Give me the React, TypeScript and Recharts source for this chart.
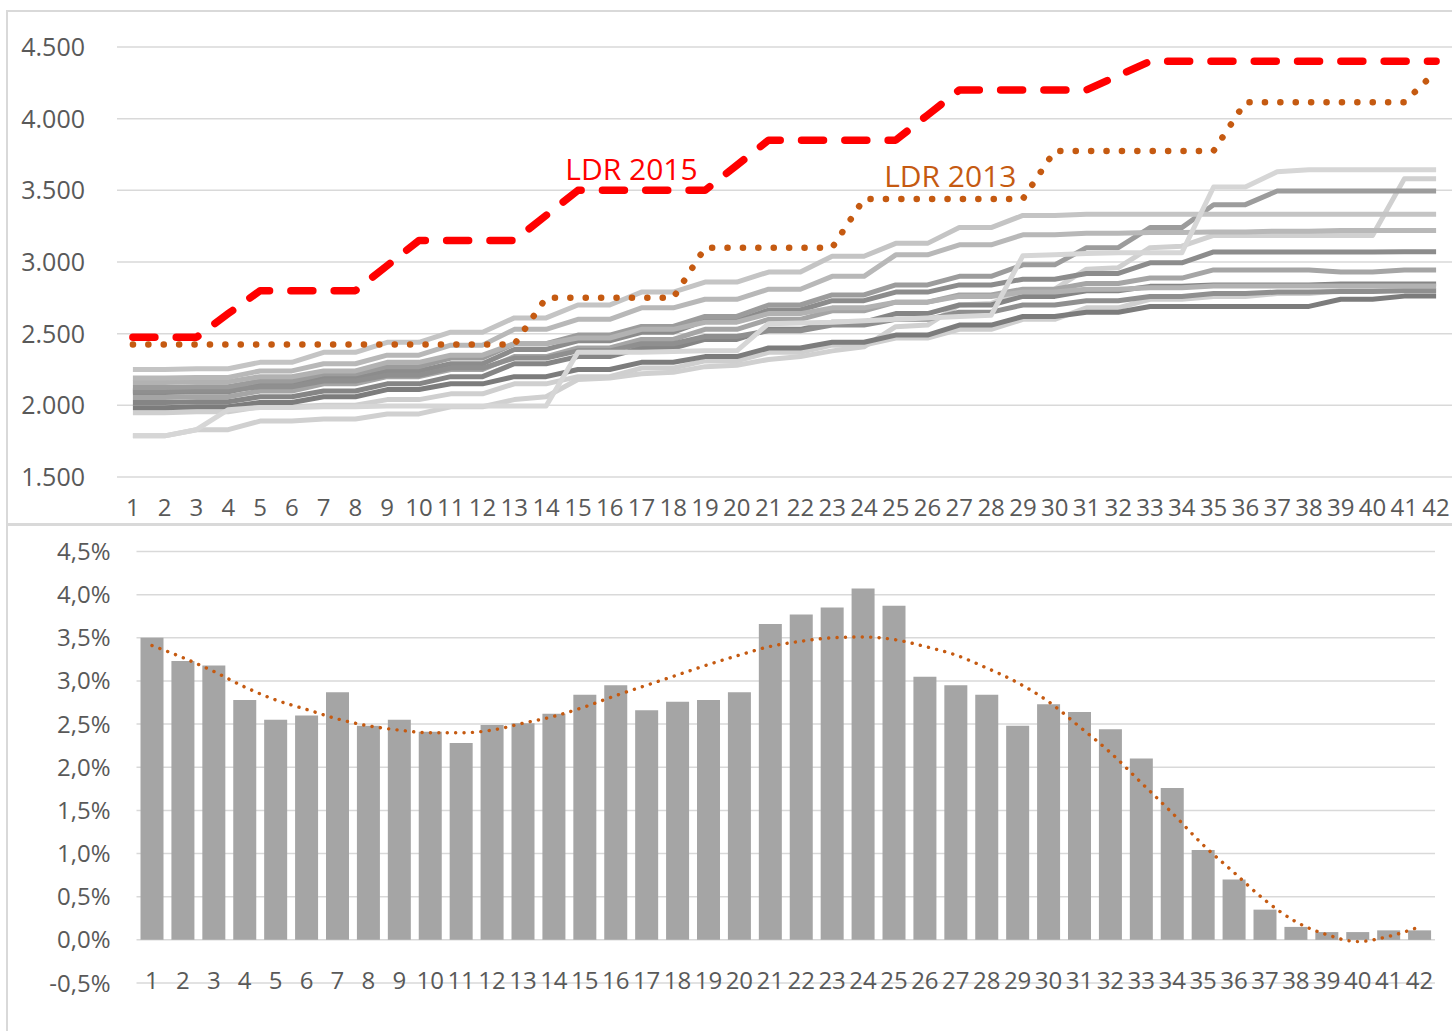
import React from "react";
import {
  LineChart,
  Line,
  ComposedChart,
  Bar,
  XAxis,
  YAxis,
  CartesianGrid,
} from "recharts";

const FONT = "'Open Sans', 'DejaVu Sans', sans-serif";
const TICK_COLOR = "#595959";
const GRID_COLOR = "#D9D9D9";

const steps = [
  "1", "2", "3", "4", "5", "6", "7", "8", "9", "10", "11", "12", "13", "14",
  "15", "16", "17", "18", "19", "20", "21", "22", "23", "24", "25", "26", "27",
  "28", "29", "30", "31", "32", "33", "34", "35", "36", "37", "38", "39", "40",
  "41", "42",
];

const topTicks = [1500, 2000, 2500, 3000, 3500, 4000, 4500];
const bottomTicks = [-0.5, 0, 0.5, 1, 1.5, 2, 2.5, 3, 3.5, 4, 4.5];

// LDR lines
const ldr2015 = [
  2475, 2475, 2475, 2640, 2800, 2800, 2800, 2800, 2975, 3150, 3150, 3150, 3150,
  3325, 3500, 3500, 3500, 3500, 3500, 3675, 3850, 3850, 3850, 3850, 3850, 4025,
  4200, 4200, 4200, 4200, 4200, 4300, 4400, 4400, 4400, 4400, 4400, 4400, 4400,
  4400, 4400, 4400,
];
const ldr2013 = [
  2425, 2425, 2425, 2425, 2425, 2425, 2425, 2425, 2425, 2425, 2425, 2425, 2425,
  2750, 2750, 2750, 2750, 2750, 3100, 3100, 3100, 3100, 3100, 3440, 3440, 3440,
  3440, 3440, 3440, 3775, 3775, 3775, 3775, 3775, 3775, 4115, 4115, 4115, 4115,
  4115, 4115, 4330,
];

// gray comparison lines
const grayT1 = [
  2250, 2250, 2255, 2255, 2300, 2300, 2370, 2370, 2440, 2440, 2510, 2510, 2610,
  2610, 2700, 2700, 2790, 2790, 2860, 2860, 2930, 2930, 3040, 3040, 3130, 3130,
  3240, 3240, 3325, 3325, 3333, 3333, 3333, 3333, 3333, 3333, 3333, 3333, 3333,
  3333, 3333, 3333,
];
const grayT2 = [
  2190, 2190, 2195, 2195, 2240, 2240, 2290, 2290, 2350, 2350, 2420, 2420, 2530,
  2530, 2600, 2600, 2680, 2680, 2740, 2740, 2810, 2810, 2900, 2900, 3050, 3050,
  3120, 3120, 3190, 3190, 3200, 3200, 3205, 3205, 3210, 3210, 3215, 3215, 3220,
  3220, 3220, 3220,
];
const grayD1 = [
  2125, 2125, 2130, 2130, 2170, 2170, 2220, 2220, 2270, 2270, 2330, 2330, 2430,
  2430, 2490, 2490, 2550, 2550, 2620, 2620, 2700, 2700, 2770, 2770, 2840, 2840,
  2900, 2900, 2980, 2980, 3100, 3100, 3240, 3240, 3400, 3400, 3495, 3495, 3495,
  3495, 3495, 3495,
];
const grayM1 = [
  2090, 2090, 2095, 2095, 2140, 2140, 2190, 2190, 2240, 2240, 2290, 2290, 2390,
  2390, 2450, 2450, 2510, 2510, 2590, 2590, 2665, 2665, 2730, 2730, 2790, 2790,
  2840, 2840, 2880, 2880, 2920, 2920, 2994, 2994, 3070, 3070, 3070, 3070, 3070,
  3070, 3072, 3072,
];
const grayM2 = [
  2055, 2055, 2060, 2060, 2100, 2100, 2150, 2150, 2200, 2200, 2250, 2250, 2340,
  2340, 2400, 2400, 2460, 2460, 2530, 2530, 2600, 2600, 2660, 2660, 2720, 2720,
  2770, 2770, 2810, 2810, 2850, 2850, 2888, 2888, 2945, 2945, 2945, 2945, 2930,
  2930, 2945, 2945,
];
const grayM3 = [
  2020, 2020, 2025, 2025, 2060, 2060, 2100, 2100, 2150, 2150, 2200, 2200, 2290,
  2290, 2340, 2340, 2400, 2400, 2460, 2460, 2530, 2530, 2580, 2580, 2640, 2640,
  2700, 2700, 2760, 2760, 2800, 2800, 2830, 2830, 2840, 2840, 2840, 2840, 2846,
  2846, 2846, 2846,
];
const grayM4 = [
  1984, 1984, 1990, 1990, 2020, 2020, 2060, 2060, 2110, 2110, 2150, 2150, 2200,
  2200, 2250, 2250, 2300, 2300, 2340, 2340, 2400, 2400, 2440, 2440, 2490, 2490,
  2560, 2560, 2620, 2620, 2650, 2650, 2690, 2690, 2690, 2690, 2690, 2690, 2740,
  2740, 2762, 2762,
];
const grayM5 = [
  2160, 2160, 2165, 2165, 2200, 2200, 2240, 2240, 2300, 2300, 2350, 2350, 2430,
  2430, 2470, 2470, 2530, 2530, 2580, 2580, 2640, 2640, 2680, 2680, 2720, 2720,
  2760, 2760, 2790, 2790, 2810, 2810, 2820, 2820, 2832, 2832, 2832, 2832, 2832,
  2832, 2832, 2832,
];
const grayM6 = [
  2100, 2100, 2105, 2105, 2130, 2130, 2170, 2170, 2210, 2210, 2260, 2260, 2330,
  2330, 2380, 2380, 2430, 2430, 2480, 2480, 2520, 2520, 2560, 2560, 2600, 2600,
  2650, 2650, 2700, 2700, 2730, 2730, 2760, 2760, 2780, 2780, 2790, 2790, 2795,
  2795, 2800, 2800,
];
const grayL1 = [
  1949, 1949, 1955, 1955, 1990, 1990, 2000, 2000, 2040, 2040, 2080, 2080, 2150,
  2150, 2200, 2200, 2260, 2260, 2310, 2310, 2370, 2370, 2420, 2420, 2470, 2470,
  2530, 2530, 2600, 2600, 2680, 2680, 2740, 2740, 2760, 2760, 2780, 2780, 2800,
  2800, 2804, 2804,
];
const grayJ1 = [
  1787, 1787, 1830, 1970, 1985, 1985, 1990, 1990, 1995, 1995, 1995, 1995, 1995,
  1995, 2370, 2370, 2370, 2375, 2380, 2380, 2570, 2575, 2580, 2590, 2600, 2610,
  2620, 2628, 3044, 3050, 3060, 3064, 3064, 3064, 3523, 3523, 3630, 3644, 3644,
  3644, 3644, 3644,
];
const grayJ2 = [
  1787, 1787, 1830, 1830, 1890, 1890, 1905, 1905, 1940, 1940, 1990, 1990, 2040,
  2060, 2180, 2190, 2220, 2230, 2270, 2280, 2320, 2340, 2380, 2408, 2549, 2560,
  2700, 2710, 2800, 2810, 2950, 2960, 3100, 3110, 3185, 3185, 3185, 3185, 3185,
  3185, 3580, 3580,
];

// bottom panel, values in percent
const growth = [
  3.5, 3.23, 3.18, 2.78, 2.55, 2.6, 2.87, 2.48, 2.55, 2.41, 2.28, 2.49, 2.51,
  2.62, 2.84, 2.95, 2.66, 2.76, 2.78, 2.87, 3.66, 3.77, 3.85, 4.07, 3.87, 3.05,
  2.95, 2.84, 2.48, 2.73, 2.64, 2.44, 2.1, 1.76, 1.04, 0.7, 0.35, 0.15, 0.09,
  0.09, 0.11, 0.11,
];
const growthTrend = [
  3.41, 3.27, 3.11, 2.93, 2.78, 2.67, 2.56, 2.48, 2.43, 2.4, 2.4, 2.43, 2.51,
  2.59, 2.7, 2.83, 2.95, 3.07, 3.19, 3.3, 3.4, 3.46, 3.5, 3.51, 3.48, 3.4, 3.3,
  3.15, 2.98, 2.76, 2.47, 2.17, 1.82, 1.47, 1.1, 0.78, 0.46, 0.21, 0.06, -0.02,
  0.04, 0.15,
];

const grayLines = [
  { key: "j2", color: "#D0D0D0", values: grayJ2 },
  { key: "l1", color: "#CFCFCF", values: grayL1 },
  { key: "m4", color: "#7C7C7C", values: grayM4 },
  { key: "m3", color: "#858585", values: grayM3 },
  { key: "m2", color: "#A5A5A5", values: grayM2 },
  { key: "m1", color: "#8C8C8C", values: grayM1 },
  { key: "m6", color: "#8F8F8F", values: grayM6 },
  { key: "d1", color: "#9C9C9C", values: grayD1 },
  { key: "m5", color: "#B2B2B2", values: grayM5 },
  { key: "t2", color: "#B8B8B8", values: grayT2 },
  { key: "t1", color: "#C4C4C4", values: grayT1 },
  { key: "j1", color: "#D6D6D6", values: grayJ1 },
];

const topRows = steps.map((s, i) => {
  const row: Record<string, number | string> = {
    step: s,
    ldr2015: ldr2015[i],
    ldr2013: ldr2013[i],
  };
  grayLines.forEach((g) => {
    row[g.key] = g.values[i];
  });
  return row;
});

const bottomRows = steps.map((s, i) => ({
  step: s,
  growth: growth[i],
  trend: growthTrend[i],
}));

const fmtThousands = (v: number) =>
  `${Math.floor(v / 1000)}.${String(v % 1000).padStart(3, "0")}`;
const fmtPct = (v: number) => `${v.toFixed(1).replace(".", ",")}%`;

function TopXTick(props: any) {
  const { x, y, payload } = props;
  return (
    <text
      x={x}
      y={y + 37}
      textAnchor="middle"
      fontSize={24}
      fontFamily={FONT}
      fill={TICK_COLOR}
    >
      {payload.value}
    </text>
  );
}

function BottomXTick(props: any) {
  const { x, y, payload } = props;
  return (
    <text
      x={x}
      y={y + 4}
      textAnchor="middle"
      fontSize={24}
      fontFamily={FONT}
      fill={TICK_COLOR}
    >
      {payload.value}
    </text>
  );
}

const seriesLabel =
  (text: string, color: string, atIndex: number, dx: number, dy: number) =>
  (props: any) => {
    if (props.index !== atIndex) return null;
    return (
      <text
        x={props.x + dx}
        y={props.y + dy}
        textAnchor="middle"
        fontSize={30}
        fontFamily={FONT}
        fill={color}
      >
        {text}
      </text>
    );
  };

export default function App() {
  return (
    <div
      style={{
        position: "absolute",
        left: 0,
        top: 0,
        width: 1452,
        height: 1031,
        background: "#fff",
        overflow: "hidden",
      }}
    >
      <div
        style={{
          position: "absolute",
          left: 0,
          top: 0,
          width: 1452,
          height: 524,
        }}
      >
        <LineChart
          width={1452}
          height={524}
          data={topRows}
          margin={{ top: 47, right: 0, bottom: 17, left: 0 }}
        >
          <CartesianGrid vertical={false} stroke={GRID_COLOR} strokeWidth={1.5} />
          <XAxis
            dataKey="step"
            interval={0}
            axisLine={false}
            tickLine={false}
            tickSize={0}
            height={30}
            padding={{ left: 15.9, right: 15.9 }}
            tick={TopXTick}
          />
          <YAxis
            domain={[1500, 4500]}
            ticks={topTicks}
            width={117}
            axisLine={false}
            tickLine={false}
            tickSize={0}
            tickMargin={32}
            tickFormatter={fmtThousands}
            tick={{ fontSize: 25, fill: TICK_COLOR, fontFamily: FONT }}
          />
          {grayLines.map((g) => (
            <Line
              key={g.key}
              type="linear"
              dataKey={g.key}
              stroke={g.color}
              strokeWidth={5}
              strokeLinejoin="round"
              dot={false}
              activeDot={false}
              isAnimationActive={false}
            />
          ))}
          <Line
            type="linear"
            dataKey="ldr2013"
            stroke="#C55A11"
            strokeWidth={6.5}
            strokeDasharray="0.1 15.3"
            strokeLinecap="round"
            strokeLinejoin="round"
            dot={false}
            activeDot={false}
            isAnimationActive={false}
            label={seriesLabel("LDR 2013", "#C55A11", 26, -9, -12)}
          />
          <Line
            type="linear"
            dataKey="ldr2015"
            stroke="#FF0000"
            strokeWidth={7.5}
            strokeDasharray="22 21.3"
            strokeLinecap="round"
            strokeLinejoin="round"
            dot={false}
            activeDot={false}
            isAnimationActive={false}
            label={seriesLabel("LDR 2015", "#FF0000", 16, -10, -10)}
          />
        </LineChart>
      </div>

      <div
        style={{
          position: "absolute",
          left: 0,
          top: 526,
          width: 1452,
          height: 505,
        }}
      >
        <ComposedChart
          width={1452}
          height={505}
          data={bottomRows}
          margin={{ top: 25.5, right: 17, bottom: 18, left: 0 }}
        >
          <CartesianGrid vertical={false} stroke={GRID_COLOR} strokeWidth={1.5} />
          <XAxis
            dataKey="step"
            interval={0}
            axisLine={false}
            tickLine={false}
            tickSize={0}
            height={30}
            tick={BottomXTick}
          />
          <YAxis
            domain={[-0.5, 4.5]}
            ticks={bottomTicks}
            width={136.5}
            axisLine={false}
            tickLine={false}
            tickSize={0}
            tickMargin={26}
            tickFormatter={fmtPct}
            tick={{ fontSize: 24, fill: TICK_COLOR, fontFamily: FONT }}
          />
          <Bar
            dataKey="growth"
            fill="#A5A5A5"
            barSize={23}
            isAnimationActive={false}
          />
          <Line
            type="monotone"
            dataKey="trend"
            stroke="#C55A11"
            strokeWidth={3.4}
            strokeDasharray="0.1 8.3"
            strokeLinecap="round"
            dot={false}
            activeDot={false}
            isAnimationActive={false}
          />
        </ComposedChart>
      </div>

      <div
        style={{
          position: "absolute",
          left: 6,
          top: 10,
          width: 1470,
          height: 512,
          border: `2px solid ${GRID_COLOR}`,
          pointerEvents: "none",
        }}
      />
      <div
        style={{
          position: "absolute",
          left: 6,
          top: 523,
          width: 1470,
          height: 600,
          borderTop: `3px solid ${GRID_COLOR}`,
          borderLeft: `2px solid ${GRID_COLOR}`,
          pointerEvents: "none",
        }}
      />
    </div>
  );
}
